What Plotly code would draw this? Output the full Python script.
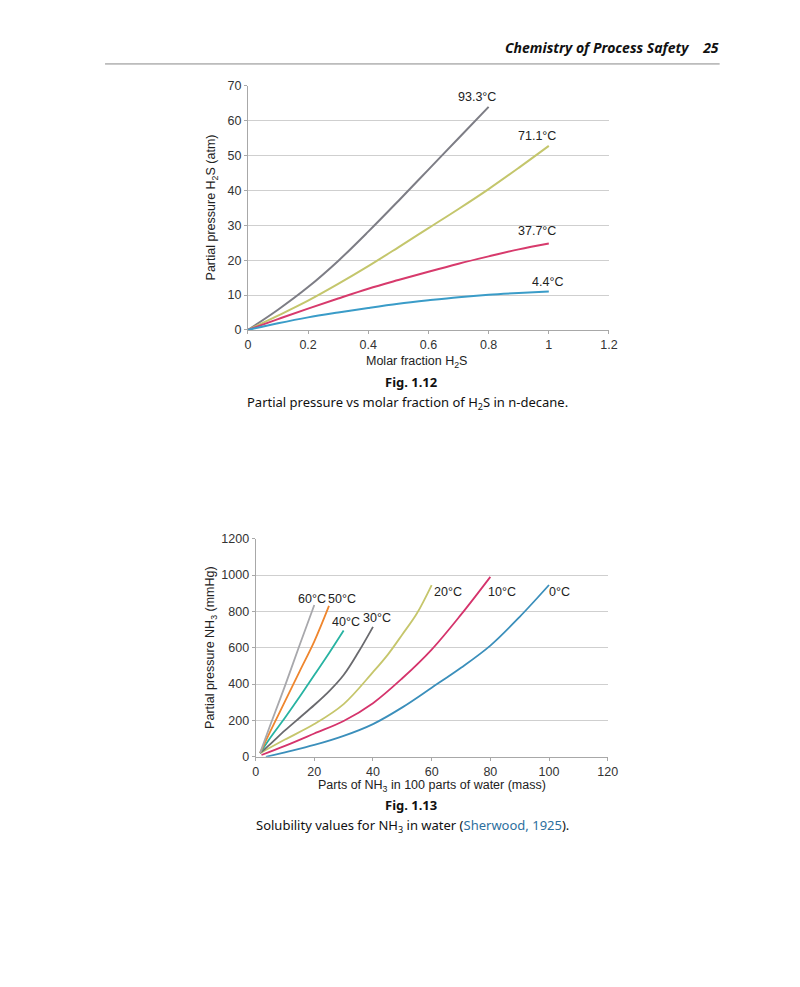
import plotly.graph_objects as go

# Fig. 1.12 -- H2S in n-decane
h2s_labels = ['93.3°C', '71.1°C', '37.7°C', '4.4°C']
h2s_colors = ['#7d7d85', '#c4c66c', '#d73a6c', '#3a9cc8']
h2s_x = [
    [0, 0.1, 0.2, 0.3, 0.4, 0.5, 0.6, 0.7, 0.8],
    [0, 0.1, 0.2, 0.3, 0.4, 0.5, 0.6, 0.7, 0.8, 0.9, 1.0],
    [0, 0.1, 0.2, 0.3, 0.4, 0.5, 0.6, 0.7, 0.8, 0.9, 1.0],
    [0, 0.1, 0.2, 0.3, 0.4, 0.5, 0.6, 0.7, 0.8, 0.9, 1.0],
]
h2s_y = [
    [0, 5.8, 12.3, 19.8, 28.2, 37, 46, 55, 64],
    [0, 4.1, 8.4, 13.2, 18.3, 23.7, 29.2, 34.7, 40.4, 46.5, 52.8],
    [0, 3.1, 6.1, 9.0, 11.8, 14.3, 16.7, 19.0, 21.1, 23.1, 24.8],
    [0, 1.9, 3.6, 5.0, 6.3, 7.5, 8.5, 9.4, 10.1, 10.6, 11.0],
]
h2s_label_pos = [(0.762, 66.8), (0.961, 55.5), (0.962, 28.3), (0.994, 13.8)]

# Fig. 1.13 -- NH3 in water (Sherwood, 1925)
nh3_labels = ['0°C', '10°C', '20°C', '30°C', '40°C', '50°C', '60°C']
nh3_colors = ['#3b8fbb', '#d5346c', '#c6c66c', '#6a6a6e', '#28b3a2', '#ef862e', '#a8a8ac']
nh3_x = [
    [3.5, 10, 20, 30, 40, 50, 60, 70, 80, 90, 100],
    [2, 10, 20, 30, 40, 50, 60, 70, 80],
    [1.5, 10, 20, 30, 40, 45, 50, 55, 60],
    [1.5, 5, 10, 15, 20, 25, 30, 35, 40],
    [1.5, 5, 10, 15, 20, 25, 30],
    [1.5, 5, 10, 15, 20, 25],
    [1.5, 5, 10, 15, 20],
]
nh3_y = [
    [0, 25, 65, 115, 180, 272, 380, 490, 612, 770, 945],
    [10, 60, 128, 197, 295, 432, 590, 782, 990],
    [20, 95, 180, 290, 466, 561, 673, 790, 945],
    [20, 70, 145, 215, 285, 360, 450, 575, 715],
    [20, 105, 215, 330, 450, 570, 695],
    [20, 140, 305, 470, 635, 830],
    [20, 175, 390, 615, 835],
]
nh3_label_pos = [(103.6, 908), (84.1, 908), (65.7, 908), (41.5, 762), (30.8, 740),
                 (29.4, 866), (19.1, 866)]

W, H = 800, 987
# the page comes out slightly shrunk and shifted; map reference pixels through it
SX, OX = 0.978, 13.5
SY, OY = 0.987, 14.0


def px(x):
    return (x - OX) / SX / W


def py(y):
    return 1 - (y - OY) / SY / H


fig = go.Figure()

for name, color, xs, ys in zip(h2s_labels, h2s_colors, h2s_x, h2s_y):
    fig.add_trace(go.Scatter(x=xs, y=ys, mode='lines', name=name,
                             line=dict(color=color, width=2, shape='spline', smoothing=1),
                             xaxis='x', yaxis='y'))
for name, color, xs, ys in zip(nh3_labels, nh3_colors, nh3_x, nh3_y):
    fig.add_trace(go.Scatter(x=xs, y=ys, mode='lines', name=name,
                             line=dict(color=color, width=1.8, shape='spline', smoothing=1),
                             xaxis='x2', yaxis='y2'))

tick_font = dict(family='Liberation Sans, Arial', size=12.5, color='#333333')
axis_common = dict(showline=True, linecolor='#a8a8a8', linewidth=1, gridcolor='#cfcfcf',
                   gridwidth=1, zeroline=False, tickfont=tick_font, showgrid=False,
                   ticks='outside', ticklen=3, tickcolor='#a8a8a8')

fig.update_layout(
    width=W, height=H,
    margin=dict(l=0, r=0, t=0, b=0),
    paper_bgcolor='white', plot_bgcolor='white',
    showlegend=False,
    xaxis=dict(axis_common, domain=[px(249), px(608)], range=[0, 1.2], dtick=0.2,
               anchor='y', tickformat='~g'),
    yaxis=dict(axis_common, domain=[py(329.3), py(85)], range=[0, 70], dtick=10,
               anchor='x', showgrid=True),
    xaxis2=dict(axis_common, domain=[px(256.7), px(606.7)], range=[0, 120], dtick=20,
                anchor='y2'),
    yaxis2=dict(axis_common, domain=[py(756.7), py(538.3)], range=[0, 1200], dtick=200,
                anchor='x2', showgrid=True),
)

annotations = []
lab_font = dict(family='Liberation Sans, Arial', size=12.5, color='#222222')
for name, (lx, ly) in zip(h2s_labels, h2s_label_pos):
    annotations.append(dict(x=lx, y=ly, xref='x', yref='y', text=name, showarrow=False,
                            xanchor='center', yanchor='middle', font=lab_font))
for name, (lx, ly) in zip(nh3_labels, nh3_label_pos):
    annotations.append(dict(x=lx, y=ly, xref='x2', yref='y2', text=name, showarrow=False,
                            xanchor='center', yanchor='middle', font=lab_font))

# axis titles
titles = [
    (213, 207, -90, 'Partial pressure H<sub>2</sub>S (atm)'),
    (417, 361, 0, 'Molar fraction H<sub>2</sub>S'),
    (213, 647, -90, 'Partial pressure NH<sub>3</sub> (mmHg)'),
    (432, 786, 0, 'Parts of NH<sub>3</sub> in 100 parts of water (mass)'),
]
for tx, ty, ang, text in titles:
    annotations.append(dict(x=px(tx), y=py(ty), xref='paper', yref='paper', textangle=ang,
                            showarrow=False, xanchor='center', yanchor='middle',
                            text=text, font=lab_font))

# page text: running head and captions
page_font = 'Noto Sans, Open Sans, DejaVu Sans'
cap_font = dict(family=page_font, size=13, color='#111111')
annotations += [
    dict(x=px(719), y=py(47), xref='paper', yref='paper', xanchor='right', yanchor='middle',
         showarrow=False,
         text='<b><i>Chemistry of Process Safety</i></b>&nbsp;&nbsp;&nbsp;&nbsp;<b><i>25</i></b>',
         font=dict(family=page_font, size=14, color='#111111')),
    dict(x=px(411), y=py(381), xref='paper', yref='paper', showarrow=False,
         xanchor='center', yanchor='middle', text='<b>Fig. 1.12</b>', font=cap_font),
    dict(x=px(408), y=py(402), xref='paper', yref='paper', showarrow=False,
         xanchor='center', yanchor='middle',
         text='Partial pressure vs molar fraction of H<sub>2</sub>S in n-decane.',
         font=cap_font),
    dict(x=px(411), y=py(805), xref='paper', yref='paper', showarrow=False,
         xanchor='center', yanchor='middle', text='<b>Fig. 1.13</b>', font=cap_font),
    dict(x=px(413), y=py(826), xref='paper', yref='paper', showarrow=False,
         xanchor='center', yanchor='middle',
         text='Solubility values for NH<sub>3</sub> in water '
              '(<span style="color:#2d6f9e">Sherwood, 1925</span>).',
         font=cap_font),
]
fig.update_layout(annotations=annotations)

# rule under the running head
fig.add_shape(type='line', xref='paper', yref='paper', x0=px(107), x1=px(718),
              y0=py(63), y1=py(63), line=dict(color='#888888', width=1))

fig.write_html("out.html")
